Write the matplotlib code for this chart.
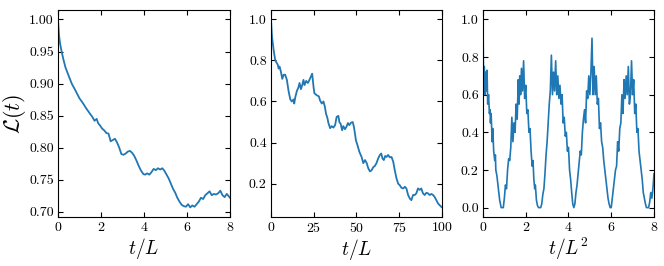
import numpy as np
import matplotlib
matplotlib.use('Agg')
import matplotlib.pyplot as plt

plt.rcParams['font.family'] = 'serif'
plt.rcParams['font.serif'] = ['cmr10']
plt.rcParams['mathtext.fontset'] = 'cm'
plt.rcParams['axes.unicode_minus'] = False
plt.rcParams['axes.formatter.use_mathtext'] = True

# panel 1: L(t) vs t/L (short times)
t1 = [0, 0.05, 0.1, 0.17, 0.25, 0.35, 0.5, 0.64, 0.8, 1.0, 1.15, 1.3, 1.49, 1.6, 1.7,
      1.8, 1.87, 1.95, 2.05, 2.15, 2.25, 2.35, 2.45, 2.55, 2.65, 2.75, 2.85, 2.95, 3.05,
      3.15, 3.25, 3.35, 3.45, 3.55, 3.65, 3.75, 3.85, 3.97, 4.05, 4.15, 4.25, 4.35, 4.45,
      4.55, 4.65, 4.75, 4.85, 4.95, 5.05, 5.15, 5.25, 5.35, 5.45, 5.55, 5.65, 5.75, 5.85,
      5.95, 6.05, 6.15, 6.25, 6.35, 6.45, 6.55, 6.65, 6.75, 6.85, 6.95, 7.05, 7.15, 7.25,
      7.35, 7.45, 7.55, 7.65, 7.75, 7.85, 7.95, 8.0]
L1 = [1.0, 0.975, 0.962, 0.95, 0.938, 0.925, 0.912, 0.90, 0.89, 0.877, 0.87, 0.862, 0.853, 0.848, 0.842,
      0.845, 0.838, 0.835, 0.83, 0.827, 0.823, 0.822, 0.81, 0.812, 0.814, 0.808, 0.80, 0.79, 0.789,
      0.791, 0.794, 0.795, 0.792, 0.787, 0.78, 0.772, 0.765, 0.759, 0.758, 0.76, 0.758, 0.762, 0.767,
      0.765, 0.768, 0.766, 0.768, 0.764, 0.758, 0.752, 0.744, 0.736, 0.73, 0.722, 0.716, 0.711, 0.709,
      0.708, 0.712, 0.707, 0.71, 0.708, 0.712, 0.716, 0.722, 0.72, 0.726, 0.729, 0.732, 0.726, 0.728,
      0.727, 0.729, 0.733, 0.726, 0.723, 0.728, 0.724, 0.722]

# panel 2: L(t) vs t/L (long times)
t2 = [0, 0.6, 1.55, 2.5, 3.9, 4.5, 5.0, 5.8, 6.6, 7.4, 8.3, 9.3, 10.3, 11.3, 12.2, 13.2, 13.6,
      14.2, 15.1, 16.1, 16.7, 17.5, 18.3, 19.0, 19.6, 20.6, 21.6, 22.5, 23.3, 24.1, 24.9, 25.4,
      26.8, 28.0, 28.7, 29.7, 30.7, 31.5, 32.2, 33.0, 33.6, 34.6, 35.5, 36.5, 37.5, 38.4, 39.4,
      40.0, 40.8, 41.6, 42.3, 43.3, 44.3, 45.0, 45.8, 46.8, 47.8, 48.5, 49.1, 49.7, 50.5, 51.7,
      53.0, 54.0, 55.0, 56.0, 56.9, 57.9, 58.8, 59.8, 60.8, 61.7, 62.7, 63.7, 64.5, 65.2, 66.0,
      66.8, 67.6, 68.5, 69.5, 70.5, 71.5, 72.4, 73.4, 74.4, 75.3, 76.3, 77.3, 78.3, 79.2, 80.2,
      81.2, 82.1, 83.1, 84.1, 85.0, 86.0, 87.0, 87.9, 88.9, 89.9, 90.9, 91.8, 92.8, 93.8, 94.8,
      95.7, 96.7, 97.7, 98.6, 99.8]
L2 = [1.0, 0.915, 0.85, 0.80, 0.78, 0.76, 0.77, 0.745, 0.71, 0.73, 0.73, 0.705, 0.65, 0.61, 0.60, 0.61, 0.59,
      0.62, 0.65, 0.67, 0.69, 0.66, 0.68, 0.705, 0.68, 0.70, 0.69, 0.705, 0.72, 0.735, 0.67, 0.64,
      0.63, 0.625, 0.605, 0.59, 0.60, 0.575, 0.54, 0.52, 0.495, 0.47, 0.48, 0.473, 0.485, 0.525, 0.53,
      0.50, 0.49, 0.46, 0.48, 0.465, 0.48, 0.495, 0.485, 0.497, 0.50, 0.477, 0.445, 0.41, 0.39, 0.355,
      0.33, 0.30, 0.315, 0.30, 0.275, 0.26, 0.265, 0.28, 0.287, 0.30, 0.323, 0.34, 0.347, 0.323, 0.315,
      0.335, 0.33, 0.34, 0.328, 0.33, 0.307, 0.266, 0.226, 0.20, 0.193, 0.18, 0.177, 0.185, 0.177, 0.145,
      0.128, 0.12, 0.145, 0.145, 0.153, 0.177, 0.17, 0.177, 0.153, 0.145, 0.156, 0.153, 0.145, 0.15, 0.145,
      0.136, 0.12, 0.104, 0.096, 0.086]

# panel 3: L(t) vs t/L^2
t3 = [0, 0.03, 0.06, 0.09, 0.12, 0.15, 0.19, 0.22, 0.26, 0.3, 0.33, 0.35, 0.38, 0.43, 0.46, 0.5,
      0.55, 0.58, 0.6, 0.65, 0.72, 0.75, 0.78, 0.85, 0.95, 1.0, 1.05, 1.1, 1.15, 1.2, 1.25, 1.3,
      1.35, 1.4, 1.45, 1.5, 1.55, 1.6, 1.65, 1.69, 1.72, 1.76, 1.8, 1.85, 1.9, 1.95, 2.0, 2.05,
      2.1, 2.15, 2.2, 2.25, 2.3, 2.34, 2.38, 2.42, 2.45, 2.5, 2.55, 2.6, 2.7, 2.75, 2.8, 2.85,
      2.9, 2.95, 3.0, 3.05, 3.1, 3.15, 3.2, 3.25, 3.3, 3.35, 3.4, 3.45, 3.5, 3.55, 3.6, 3.65,
      3.7, 3.75, 3.8, 3.85, 3.9, 3.95, 4.0, 4.05, 4.1, 4.15, 4.2, 4.25, 4.3, 4.35, 4.4, 4.45,
      4.5, 4.55, 4.6, 4.65, 4.7, 4.75, 4.8, 4.85, 4.9, 4.95, 5.0, 5.05, 5.1, 5.15, 5.2, 5.25,
      5.3, 5.35, 5.4, 5.45, 5.5, 5.55, 5.6, 5.65, 5.7, 5.75, 5.8, 5.85, 5.9, 5.95, 6.0, 6.05,
      6.1, 6.15, 6.2, 6.25, 6.3, 6.35, 6.4, 6.45, 6.5, 6.55, 6.6, 6.65, 6.7, 6.75, 6.8, 6.85,
      6.9, 6.95, 7.0, 7.05, 7.1, 7.15, 7.2, 7.25, 7.3, 7.35, 7.4, 7.45, 7.5, 7.55, 7.6, 7.65,
      7.75, 7.8, 7.85, 7.9, 7.95, 8.0]
L3 = [1.0, 0.6, 0.75, 0.6, 0.72, 0.62, 0.73, 0.55, 0.6, 0.5, 0.52, 0.45, 0.5, 0.35, 0.42, 0.3,
      0.25, 0.28, 0.2, 0.17, 0.1, 0.07, 0.04, 0.0, 0.0, 0.05, 0.12, 0.1, 0.2, 0.26, 0.25, 0.32,
      0.48, 0.35, 0.45, 0.4, 0.55, 0.47, 0.68, 0.55, 0.7, 0.6, 0.74, 0.62, 0.78, 0.58, 0.65, 0.5,
      0.52, 0.4, 0.42, 0.3, 0.22, 0.25, 0.15, 0.1, 0.12, 0.04, 0.01, 0.0, 0.0, 0.02, 0.07, 0.1,
      0.18, 0.28, 0.35, 0.45, 0.55, 0.62, 0.81, 0.6, 0.72, 0.62, 0.78, 0.6, 0.7, 0.58, 0.65, 0.55,
      0.6, 0.45, 0.48, 0.38, 0.4, 0.3, 0.32, 0.2, 0.15, 0.08, 0.02, 0.0, 0.02, 0.08, 0.12, 0.18,
      0.24, 0.3, 0.28, 0.4, 0.47, 0.52, 0.45, 0.62, 0.58, 0.7, 0.6, 0.72, 0.9, 0.6, 0.75, 0.6,
      0.7, 0.55, 0.58, 0.42, 0.45, 0.35, 0.32, 0.25, 0.2, 0.15, 0.1, 0.05, 0.02, 0.0, 0.0, 0.05,
      0.1, 0.15, 0.2, 0.22, 0.35, 0.3, 0.42, 0.45, 0.6, 0.5, 0.68, 0.58, 0.7, 0.6, 0.75, 0.55,
      0.6, 0.78, 0.6, 0.68, 0.5, 0.55, 0.4, 0.42, 0.3, 0.25, 0.2, 0.15, 0.08, 0.05, 0.02, 0.0,
      0.0, 0.03, 0.08, 0.05, 0.1, 0.18]

fig = plt.figure(figsize=(6.64, 2.66), dpi=100)
ax1 = fig.add_axes([0.0873, 0.1842, 0.2591, 0.7782])
ax2 = fig.add_axes([0.4081, 0.1842, 0.2575, 0.7782])
ax3 = fig.add_axes([0.7274, 0.1842, 0.2575, 0.7782])

color = '#1f77b4'
ax1.plot(t1, L1, color=color, lw=1.3)
ax2.plot(t2, L2, color=color, lw=1.3)
ax3.plot(t3, L3, color=color, lw=1.2)

ax1.set_xlim(0, 8)
ax1.set_ylim(0.692, 1.0147)
ax1.set_xticks([0, 2, 4, 6, 8])
ax1.set_yticks([0.70, 0.75, 0.80, 0.85, 0.90, 0.95, 1.00])
ax1.set_yticklabels(['%.2f' % v for v in [0.70, 0.75, 0.80, 0.85, 0.90, 0.95, 1.00]])
ax1.set_xlabel(r'$t/L$', fontsize=14, labelpad=1)
ax1.set_ylabel(r'$\mathcal{L}(t)$', fontsize=16, labelpad=1)

ax2.set_xlim(0, 100)
ax2.set_ylim(0.038, 1.045)
ax2.set_xticks([0, 25, 50, 75, 100])
ax2.set_yticks([0.2, 0.4, 0.6, 0.8, 1.0])
ax2.set_yticklabels(['%.1f' % v for v in [0.2, 0.4, 0.6, 0.8, 1.0]])
ax2.set_xlabel(r'$t/L$', fontsize=14, labelpad=1)

ax3.set_xlim(0, 8)
ax3.set_ylim(-0.05, 1.05)
ax3.set_xticks([0, 2, 4, 6, 8])
ax3.set_yticks([0.0, 0.2, 0.4, 0.6, 0.8, 1.0])
ax3.set_yticklabels(['%.1f' % v for v in [0.0, 0.2, 0.4, 0.6, 0.8, 1.0]])
ax3.set_xlabel(r'$t/L^2$', fontsize=14, labelpad=1)

for ax in (ax1, ax2, ax3):
    ax.tick_params(direction='in', top=True, right=True, labelsize=10, length=3.5, width=0.8, pad=3)
    for s in ax.spines.values():
        s.set_linewidth(0.8)

fig.savefig('out.png', dpi=100)
